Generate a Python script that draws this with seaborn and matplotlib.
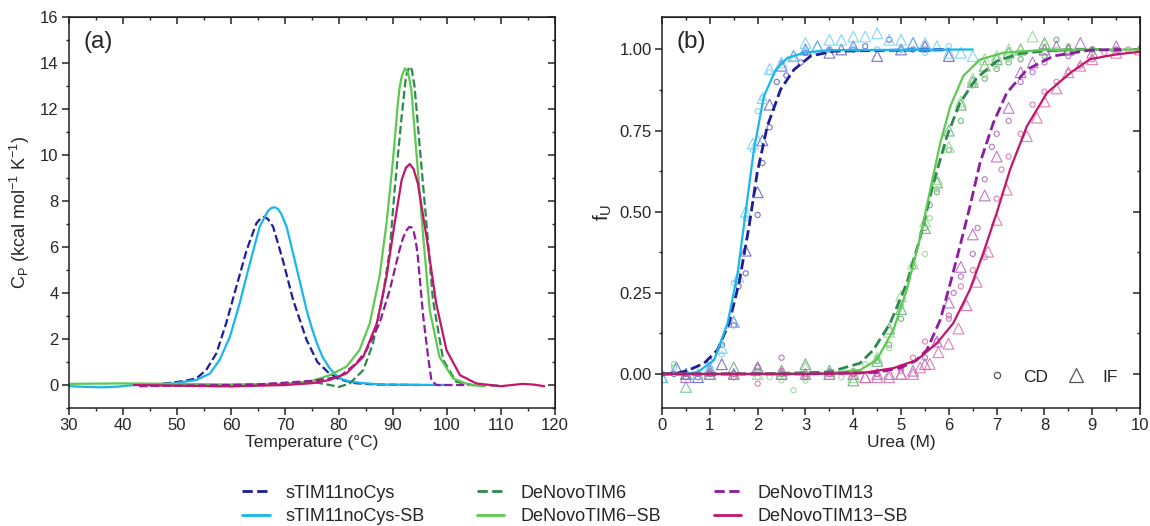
import numpy as np
import pandas as pd
import matplotlib
matplotlib.use("Agg")
import matplotlib.pyplot as plt
from matplotlib.lines import Line2D
from matplotlib.ticker import MultipleLocator, FormatStrFormatter
import seaborn as sns

# ---------------- data: (a) DSC traces ----------------
names = ['sTIM11noCys', 'sTIM11noCys-SB', 'DeNovoTIM6', 'DeNovoTIM6\u2212SB',
         'DeNovoTIM13', 'DeNovoTIM13\u2212SB']
colors = ['#1c1c9c', '#17b6ef', '#2b8a4c', '#5cc94f', '#8d1c9e', '#c2156b']
light = ['#5b5bc8', '#6fd0f5', '#5ea874', '#8fd888', '#b060c8', '#de6aa6']
styles = ['--', '-', '--', '-', '--', '-']

t_stim = [43, 46, 49, 51.7, 53.6, 55.4, 57.3, 59.1, 61.0, 62.9, 64.7, 65.5, 66.2, 66.9,
          67.8, 69.6, 71.5, 74.0, 76, 78, 80, 83, 87, 95]
cp_stim = [0.0, 0.03, 0.1, 0.19, 0.29, 0.65, 1.38, 2.68, 4.28, 5.87, 7.03, 7.25, 7.32, 7.2,
           6.88, 5.43, 3.7, 1.96, 1.0, 0.55, 0.25, 0.08, 0.02, 0.0]

t_stim_sb = [30, 33, 36, 39, 42, 46, 49.3, 53.6, 56.1, 57.9, 59.8, 61.6, 63.5, 65.3,
             66.8, 67.5, 68.1, 68.7, 69.3, 70.3, 72.1, 74.0, 75, 76, 77, 78.3, 80.1, 82,
             84.5, 88, 100]
cp_stim_sb = [-0.05, -0.08, -0.1, -0.07, 0.0, 0.03, 0.07, 0.22, 0.5, 1.09, 2.1, 3.55, 5.3,
              6.88, 7.55, 7.7, 7.73, 7.65, 7.45, 6.88, 5.14, 3.26, 2.45, 1.75, 1.2, 0.72,
              0.29, 0.15, 0.08, 0.02, 0.0]

t_tim6 = [45, 55, 65, 72, 76, 78.3, 80, 82.0, 84.5, 86.3, 88.1, 89.4, 90.3, 91.6, 92.4,
          93.0, 93.5, 94.0, 94.9, 96.2, 97.4, 99.3, 101.7, 104.8, 110]
cp_tim6 = [0.0, 0.0, 0.02, 0.08, 0.1, 0.0, -0.08, 0.07, 0.65, 1.81, 3.84, 5.87, 8.48,
           11.67, 13.4, 13.85, 13.7, 12.97, 10.5, 7.03, 3.7, 1.09, 0.14, 0.0, -0.03]

t_tim6_sb = [30, 40, 50, 60, 70, 75, 78.3, 81.4, 83.8, 85.7, 87.5, 88.8, 90.0, 90.9, 91.2,
             91.6, 92.2, 92.8, 93.4, 94.3, 95.6, 96.8, 98.6, 101.1, 104.2, 107]
cp_tim6_sb = [0.05, 0.07, 0.05, 0.02, 0.05, 0.18, 0.43, 0.8, 1.52, 2.68, 4.71, 7.03, 9.78,
              12.25, 12.9, 13.4, 13.77, 13.6, 12.83, 10.2, 6.45, 3.26, 1.23, 0.29, 0.0,
              -0.05]

t_tim13 = [43, 50, 60, 65, 70, 75, 78, 80.1, 83.2, 85.1, 87.5, 89.4, 91.2, 91.8, 92.4,
           93.0, 93.4, 93.8, 94.2, 94.6, 95.6, 96.5, 97.1, 98, 104]
cp_tim13 = [-0.05, -0.03, 0.0, 0.03, 0.1, 0.18, 0.28, 0.36, 0.94, 1.52, 2.68, 4.13, 5.87,
            6.35, 6.7, 6.87, 6.86, 6.7, 6.3, 5.58, 2.97, 1.23, 0.22, 0.0, 0.0]

t_tim13_sb = [42, 50, 60, 70, 75, 78.3, 81.4, 84.5, 87.0, 88.8, 90.3, 91.6, 92.4, 93.1,
              93.8, 94.6, 96.2, 98.0, 99.9, 102.4, 105.4, 108, 110, 112, 114, 116, 118]
cp_tim13_sb = [0.0, -0.03, -0.06, 0.0, 0.08, 0.22, 0.51, 1.23, 2.68, 4.71, 7.03, 8.91,
               9.45, 9.61, 9.4, 8.77, 6.45, 3.55, 1.52, 0.43, 0.07, 0.0, -0.05, 0.0, 0.05,
               0.02, -0.05]

# ---------------- data: (b) urea fits ----------------
u_stim = [0, 0.3, 0.53, 0.88, 1.16, 1.40, 1.61, 1.82, 1.99, 2.20, 2.48, 2.76, 3.11, 3.6, 6.0]
f_stim = [0.0, 0.002, 0.01, 0.033, 0.074, 0.156, 0.28, 0.455, 0.62, 0.763, 0.877, 0.938,
          0.98, 0.995, 1.0]
u_stim_sb = [0, 0.4, 0.74, 1.09, 1.37, 1.58, 1.75, 1.92, 2.13, 2.38, 2.62, 2.97, 3.5, 6.5]
f_stim_sb = [0.0, 0.0, 0.005, 0.043, 0.156, 0.31, 0.5, 0.69, 0.856, 0.938, 0.974, 0.99,
             0.998, 1.0]
u_tim6 = [0, 2, 3.5, 4.14, 4.42, 4.77, 5.12, 5.40, 5.68, 5.96, 6.23, 6.58, 7.0, 7.49, 8.2, 9.2]
f_tim6 = [0, 0, 0.006, 0.033, 0.074, 0.156, 0.28, 0.42, 0.59, 0.733, 0.835, 0.912, 0.964,
          0.988, 0.998, 1.0]
u_tim6_sb = [0, 2, 3.5, 4.14, 4.49, 4.84, 5.12, 5.40, 5.61, 5.82, 6.03, 6.30, 6.65, 7.14, 8, 10]
f_tim6_sb = [0, 0, 0.003, 0.012, 0.043, 0.136, 0.26, 0.42, 0.568, 0.712, 0.825, 0.918,
             0.969, 0.99, 0.999, 1.0]
u_tim13 = [0, 3, 4.5, 5.0, 5.3, 5.54, 5.82, 6.03, 6.23, 6.44, 6.65, 6.93, 7.21, 7.63, 8.19,
           8.95, 9.6]
f_tim13 = [0, 0, 0.005, 0.02, 0.04, 0.074, 0.167, 0.28, 0.393, 0.516, 0.65, 0.774, 0.866,
           0.938, 0.98, 0.998, 1.0]
u_tim13_sb = [0, 3, 4.14, 4.84, 5.33, 5.75, 6.09, 6.44, 6.72, 7.0, 7.28, 7.63, 8.05, 8.54,
              8.95, 9.5, 10]
f_tim13_sb = [0, 0.0, 0.002, 0.018, 0.043, 0.095, 0.156, 0.26, 0.373, 0.496, 0.63, 0.763,
              0.866, 0.928, 0.97, 0.985, 0.993]

# ---------------- data: (b) measured points (CD circles, IF triangles) ----------------
cd_u = [
    [0, 0.25, 0.5, 0.75, 1.0, 1.25, 1.5, 1.6, 1.75, 2.0, 2.1, 2.25, 2.4, 2.6, 2.9, 3.0, 3.5,
     4.0, 4.25, 4.75, 5.0, 5.25, 5.5],
    [0, 0.25, 0.5, 0.75, 1.0, 1.25, 1.5, 1.6, 1.75, 1.9, 2.0, 2.1, 2.25, 2.5, 2.75, 3.0, 3.25,
     3.5, 4.0, 4.5, 5.0, 5.5, 6.0],
    [0.5, 1.0, 1.5, 2.0, 2.5, 3.0, 3.5, 4.0, 4.5, 4.75, 5.0, 5.25, 5.5, 5.6, 5.75, 6.0, 6.25,
     6.5, 6.75, 7.0, 7.25, 7.5, 8.0, 8.25, 8.5, 9.0],
    [0.25, 0.5, 1.0, 1.5, 2.0, 2.25, 2.5, 2.75, 3.0, 3.5, 3.75, 4.0, 4.25, 4.5, 4.75, 5.0,
     5.25, 5.5, 5.6, 5.75, 6.0, 6.25, 6.5, 6.75, 7.0, 7.25, 7.5, 8.0, 8.25, 8.5, 9.0, 9.5],
    [0.5, 1.0, 1.5, 2.0, 2.5, 3.0, 3.5, 4.0, 4.5, 5.0, 5.5, 5.75, 6.0, 6.1, 6.25, 6.5, 6.6,
     6.75, 6.9, 7.0, 7.25, 7.5, 7.75, 8.0, 8.5, 9.0, 9.5, 10.0],
    [0.75, 1.5, 2.0, 2.5, 3.0, 3.5, 4.0, 4.5, 5.0, 5.25, 5.5, 6.0, 6.25, 6.5, 6.75, 7.0, 7.1,
     7.25, 7.5, 7.75, 8.0, 8.25, 8.5, 8.75, 9.0, 9.25, 9.5, 9.75, 10.0],
]
cd_f = [
    [0.0, 0.0, -0.01, 0.0, 0.04, 0.09, 0.15, 0.27, 0.31, 0.49, 0.65, 0.76, 0.9, 0.92, 0.96,
     0.99, 1.0, 1.0, 1.01, 1.03, 1.0, 1.0, 1.0],
    [0.0, 0.02, 0.0, -0.01, 0.02, 0.06, 0.28, 0.3, 0.48, 0.69, 0.81, 0.85, 0.93, 0.96, 0.97,
     1.0, 0.99, 1.0, 1.01, 1.0, 1.0, 0.99, 1.01],
    [0.0, 0.0, -0.01, 0.01, 0.0, -0.01, 0.0, 0.0, 0.04, 0.09, 0.17, 0.33, 0.45, 0.52, 0.56,
     0.69, 0.78, 0.89, 0.91, 0.94, 0.96, 0.97, 0.98, 1.03, 0.99, 1.0],
    [0.03, 0.0, 0.0, 0.0, -0.01, -0.01, -0.02, -0.05, -0.02, 0.0, -0.01, 0.01, 0.03, 0.05,
     0.08, 0.21, 0.33, 0.37, 0.48, 0.57, 0.69, 0.78, 0.89, 0.92, 0.95, 0.97, 0.99, 1.02, 1.0,
     1.01, 0.99, 0.99],
    [0.0, 0.0, 0.0, 0.02, 0.05, -0.01, 0.0, 0.0, 0.0, 0.02, 0.05, 0.1, 0.18, 0.25, 0.3, 0.37,
     0.45, 0.6, 0.7, 0.74, 0.78, 0.9, 0.93, 0.96, 0.98, 1.0, 1.0, 1.0],
    [-0.01, -0.01, -0.03, 0.01, 0.0, 0.0, 0.0, 0.0, 0.01, 0.05, 0.1, 0.17, 0.27, 0.32, 0.36,
     0.54, 0.63, 0.67, 0.74, 0.83, 0.87, 0.9, 0.93, 0.95, 0.97, 0.99, 1.0, 1.0, 1.0],
]
if_u = [
    [0, 0.3, 0.5, 0.75, 1.0, 1.25, 1.5, 1.75, 2.0, 2.1, 2.25, 2.5, 2.75, 3.0, 3.25, 3.5, 3.75,
     4.0, 4.5, 5.0, 5.25, 5.5, 6.0],
    [0, 0.5, 0.75, 1.0, 1.25, 1.5, 1.6, 1.75, 1.9, 2.0, 2.1, 2.25, 2.5, 2.75, 3.0, 3.25, 3.5,
     3.75, 4.0, 4.25, 4.5, 4.75, 5.0, 5.25, 5.5, 5.75, 6.0, 6.25, 6.5],
    [0.5, 1.0, 1.5, 2.0, 2.5, 3.0, 3.5, 4.0, 4.5, 4.75, 5.0, 5.5, 5.75, 6.0, 6.25, 6.5, 6.75,
     7.0, 7.25, 7.5, 8.0, 8.5],
    [0.5, 1.0, 1.5, 2.0, 2.5, 3.0, 3.5, 4.0, 4.5, 4.75, 5.0, 5.25, 5.5, 5.75, 6.0, 6.25, 6.5,
     6.75, 7.0, 7.25, 7.5, 7.75, 8.0, 8.5],
    [0.5, 1.0, 1.5, 2.0, 2.5, 3.0, 3.5, 4.0, 4.25, 4.5, 4.75, 5.0, 5.25, 5.5, 5.75, 6.0, 6.25,
     6.5, 6.75, 7.0, 7.25, 7.5, 7.75, 8.0, 8.25, 8.5, 8.75, 9.0, 9.5],
    [4.25, 4.5, 4.75, 5.0, 5.25, 5.4, 5.6, 5.78, 5.99, 6.2, 6.37, 6.58, 6.82, 7.0, 7.21, 7.63,
     7.84, 8.0, 8.25, 8.5, 8.75, 9.0, 9.5, 10.0],
]
if_f = [
    [-0.01, 0.02, 0.0, -0.01, 0.01, 0.03, 0.16, 0.38, 0.56, 0.72, 0.83, 0.95, 0.98, 1.0, 1.01,
     0.99, 1.0, 1.01, 0.98, 1.0, 1.02, 1.01, 0.98],
    [-0.01, -0.04, 0.0, 0.02, 0.08, 0.16, 0.3, 0.5, 0.71, 0.72, 0.85, 0.94, 0.96, 0.98, 1.02,
     1.01, 1.03, 1.03, 1.04, 1.04, 1.05, 1.03, 1.03, 1.02, 1.02, 1.01, 0.99, 0.99, 0.98],
    [0.0, 0.0, 0.02, 0.02, 0.01, 0.03, 0.01, -0.02, 0.04, 0.14, 0.2, 0.45, 0.59, 0.75, 0.83,
     0.9, 0.95, 0.97, 0.99, 1.0, 1.02, 1.0],
    [-0.04, 0.0, 0.0, 0.0, 0.0, 0.02, 0.0, -0.01, 0.05, 0.13, 0.24, 0.34, 0.47, 0.6, 0.7,
     0.84, 0.91, 0.97, 0.98, 1.0, 1.0, 1.04, 1.0, 1.0],
    [-0.01, 0.0, 0.0, 0.02, 0.0, 0.0, 0.0, 0.0, -0.01, 0.0, 0.0, 0.0, 0.01, 0.03, 0.1, 0.22,
     0.33, 0.43, 0.55, 0.67, 0.82, 0.93, 0.96, 1.0, 1.01, 1.0, 1.02, 0.99, 1.01],
    [-0.01, -0.01, -0.01, 0.0, 0.0, 0.02, 0.031, 0.067, 0.093, 0.14, 0.212, 0.284, 0.377,
     0.475, 0.568, 0.733, 0.79, 0.84, 0.88, 0.93, 0.95, 0.97, 0.99, 1.0],
]

dsc = [(t_stim, cp_stim), (t_stim_sb, cp_stim_sb), (t_tim6, cp_tim6),
       (t_tim6_sb, cp_tim6_sb), (t_tim13, cp_tim13), (t_tim13_sb, cp_tim13_sb)]
fits = [(u_stim, f_stim), (u_stim_sb, f_stim_sb), (u_tim6, f_tim6),
        (u_tim6_sb, f_tim6_sb), (u_tim13, f_tim13), (u_tim13_sb, f_tim13_sb)]

sns.set_style('ticks')
plt.rcParams['font.family'] = ['Liberation Sans', 'DejaVu Sans']
plt.rcParams['mathtext.fontset'] = 'custom'
plt.rcParams['mathtext.rm'] = 'Liberation Sans'
plt.rcParams['mathtext.it'] = 'Liberation Sans'

fig = plt.figure(figsize=(11.5, 5.26), dpi=100)
ax1 = fig.add_axes([0.060, 0.2243, 0.4226, 0.7433])
ax2 = fig.add_axes([0.5757, 0.2243, 0.4157, 0.7433])


def frame(ax, xmaj, xmin, ymaj, ymin):
    ax.xaxis.set_major_locator(MultipleLocator(xmaj))
    ax.xaxis.set_minor_locator(MultipleLocator(xmin))
    ax.yaxis.set_major_locator(MultipleLocator(ymaj))
    ax.yaxis.set_minor_locator(MultipleLocator(ymin))
    ax.tick_params(which='major', direction='out', length=5, width=1.1, labelsize=12,
                   color='#222222', pad=2.5)
    ax.tick_params(which='minor', direction='out', length=2.5, width=1.0, color='#222222')
    for s in ax.spines.values():
        s.set_linewidth(1.1)
        s.set_color('#222222')
    top = ax.secondary_xaxis('top')
    top.xaxis.set_major_locator(MultipleLocator(xmaj))
    top.xaxis.set_minor_locator(MultipleLocator(xmin))
    top.tick_params(which='major', direction='in', length=5, width=1.1, labeltop=False)
    top.tick_params(which='minor', direction='in', length=2.5, width=1.0)
    right = ax.secondary_yaxis('right')
    right.yaxis.set_major_locator(MultipleLocator(ymaj))
    right.yaxis.set_minor_locator(MultipleLocator(ymin))
    right.tick_params(which='major', direction='in', length=5, width=1.1, labelright=False)
    right.tick_params(which='minor', direction='in', length=2.5, width=1.0)


# panel (a)
for (x, y), c, ls in zip(dsc, colors, styles):
    sns.lineplot(x=x, y=y, ax=ax1, color=c, linestyle=ls, linewidth=1.6,
                 estimator=None, sort=False)
ax1.set_xlim(30, 120)
ax1.set_ylim(-1, 16)
frame(ax1, 10, 5, 2, 1)
ax1.set_xlabel('Temperature (\u00b0C)', fontsize=12.5, labelpad=1)
ax1.set_ylabel(r'C$_\mathregular{P}$ (kcal mol$^{\mathregular{-1}}$ K$^{\mathregular{-1}}$)',
               fontsize=13, labelpad=6)
ax1.text(0.03, 0.965, '(a)', transform=ax1.transAxes, fontsize=17.5, va='top')

# panel (b) points
for i in range(6):
    sns.scatterplot(x=cd_u[i], y=cd_f[i], ax=ax2, marker='o', s=14,
                    facecolor='none', edgecolor=light[i], linewidth=0.8, alpha=0.85)
    sns.scatterplot(x=if_u[i], y=if_f[i], ax=ax2, marker='^', s=60,
                    facecolor='none', edgecolor=light[i], linewidth=0.8, alpha=0.85)

# panel (b) fits
for (x, y), c, ls in zip(fits, colors, styles):
    sns.lineplot(x=x, y=y, ax=ax2, color=c, linestyle=ls,
                 linewidth=2.0 if ls == '--' else 1.6, estimator=None, sort=False)
ax2.set_xlim(0, 10)
ax2.set_ylim(-0.105, 1.1)
frame(ax2, 1, 0.5, 0.25, 0.125)
ax2.yaxis.set_major_formatter(FormatStrFormatter('%.2f'))
ax2.set_xlabel('Urea (M)', fontsize=12.5, labelpad=1)
ax2.set_ylabel(r'f$_\mathregular{U}$', fontsize=15, labelpad=4)
ax2.text(0.03, 0.965, '(b)', transform=ax2.transAxes, fontsize=17.5, va='top')

mk = [Line2D([], [], ls='none', marker='o', ms=4.5, mfc='none', mec='#555555', mew=0.9),
      Line2D([], [], ls='none', marker='^', ms=10, mfc='none', mec='#555555', mew=0.9)]
ax2.legend(mk, ['CD', 'IF'], loc='lower right', bbox_to_anchor=(0.985, 0.02), ncol=2,
           frameon=False, fontsize=12.5, handletextpad=0.9, columnspacing=1.0,
           handlelength=1.2)

# shared legend below
hd = [Line2D([], [], color=c, ls=ls, lw=2.0) for c, ls in zip(colors, styles)]
fig.legend(hd, names, loc='center', bbox_to_anchor=(0.5, 0.040), ncol=3,
           frameon=False, fontsize=13, handlelength=1.5, handletextpad=0.9,
           columnspacing=2.9, labelspacing=0.35)

fig.savefig('out.png', dpi=100)
